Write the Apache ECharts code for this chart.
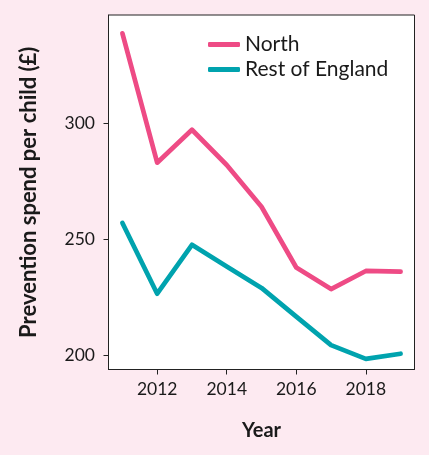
<!DOCTYPE html>
<html>
<head>
<meta charset="utf-8">
<script src="https://cdn.jsdelivr.net/npm/echarts@6/dist/echarts.min.js"></script>
<style>
html,body{margin:0;padding:0;background:#fdeaf1;}
#chart{width:429px;height:455px;}
</style>
</head>
<body>
<div id="chart"></div>
<script>
var years = [2011, 2012, 2013, 2014, 2015, 2016, 2017, 2018, 2019];
var north = [338.8, 283, 297.2, 282, 264, 237.8, 228.5, 236.3, 236];
var restOfEngland = [257, 226.5, 247.6, 238.2, 229, 216.6, 204.3, 198.4, 200.6];
var xTicks = [2012, 2014, 2016, 2018];
var yTicks = [200, 250, 300];

function pairs(vals){ return years.map(function(y,i){ return [y, vals[i]]; }); }

var txt = '#1a1a1a';
var chart = echarts.init(document.getElementById('chart'));
chart.setOption({
  backgroundColor: '#fdeaf1',
  animation: false,
  textStyle: {fontFamily: 'Lato'},
  grid: {left: 108.5, right: 14.5, top: 15, bottom: 85.5, show: true, backgroundColor: '#ffffff', borderColor: '#222222', borderWidth: 1},
  legend: {
    orient: 'vertical', left: 203, top: 29, itemGap: 4,
    itemWidth: 32, itemHeight: 5, icon: 'roundRect',
    textStyle: {fontFamily: 'Lato', fontSize: 21, color: txt},
    data: ['North', 'Rest of England']
  },
  xAxis: {
    type: 'value', min: 2010.6, max: 2019.4,
    name: 'Year', nameLocation: 'middle', nameGap: 51,
    nameTextStyle: {fontFamily: 'Lato', fontSize: 20, fontWeight: 'bold', color: txt},
    axisLine: {show: true, lineStyle: {color: '#222222', width: 1}},
    axisTick: {show: true, length: 5, lineStyle: {color: '#222222'}, customValues: xTicks},
    axisLabel: {fontFamily: 'Lato', fontSize: 17.5, color: txt, margin: 11, customValues: xTicks, formatter: function(v){return String(v);}},
    splitLine: {show: false}
  },
  yAxis: {
    type: 'value', min: 193.8, max: 346.7,
    name: 'Prevention spend per child (£)', nameLocation: 'middle', nameGap: 69, nameRotate: 90,
    nameTextStyle: {fontFamily: 'Lato', fontSize: 22, fontWeight: 'bold', color: txt},
    axisLine: {show: true, lineStyle: {color: '#222222', width: 1}},
    axisTick: {show: true, length: 5, lineStyle: {color: '#222222'}, customValues: yTicks},
    axisLabel: {fontFamily: 'Lato', fontSize: 17.5, color: txt, margin: 13.5, customValues: yTicks},
    splitLine: {show: false}
  },
  series: [
    {name: 'North', type: 'line', data: pairs(north), symbol: 'none', color: '#ee4b85',
     lineStyle: {width: 4.7, color: '#ee4b85', cap: 'round', join: 'round'}},
    {name: 'Rest of England', type: 'line', data: pairs(restOfEngland), symbol: 'none', color: '#00a3ae',
     lineStyle: {width: 4.7, color: '#00a3ae', cap: 'round', join: 'round'}}
  ]
});
</script>
</body>
</html>
